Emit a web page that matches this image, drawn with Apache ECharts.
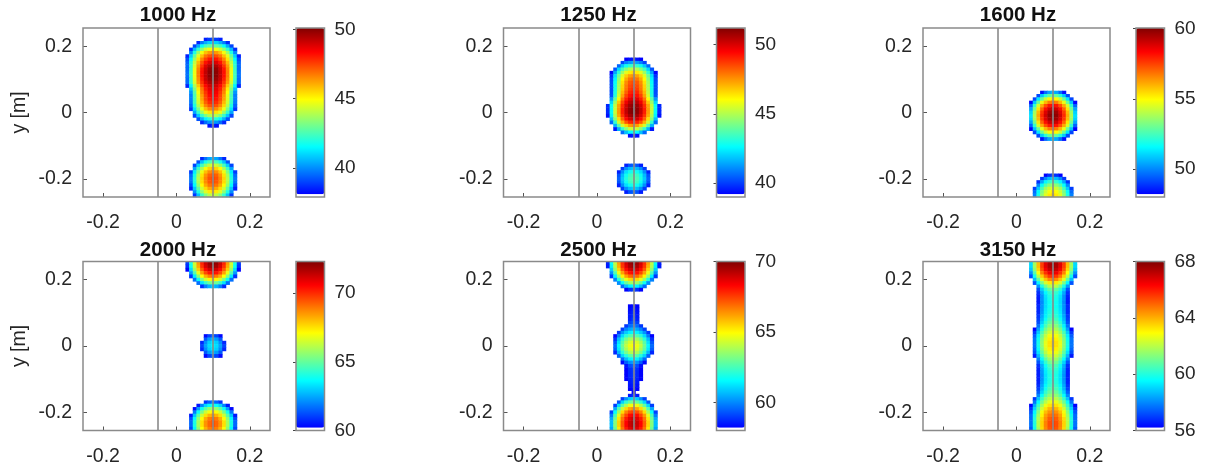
<!DOCTYPE html>
<html><head><meta charset="utf-8">
<script src="https://cdn.jsdelivr.net/npm/echarts@6/dist/echarts.min.js"></script>
<style>html,body{margin:0;padding:0;background:#fff}#c{width:1213px;height:469px}</style>
</head><body><div id="c"></div>
<script>
// ---------- data ----------
const gridPos = [-0.25,-0.24,-0.23,-0.22,-0.21,-0.2,-0.19,-0.18,-0.17,-0.16,-0.15,-0.14,-0.13,-0.12,-0.11,-0.1,-0.09,-0.08,-0.07,-0.06,-0.05,-0.04,-0.03,-0.02,-0.01,0,0.01,0.02,0.03,0.04,0.05,0.06,0.07,0.08,0.09,0.1,0.11,0.12,0.13,0.14,0.15,0.16,0.17,0.18,0.19,0.2,0.21,0.22,0.23,0.24,0.25];
const colX = [0.03,0.04,0.05,0.06,0.07,0.08,0.09,0.1,0.11,0.12,0.13,0.14,0.15,0.16,0.17];
const xTicks = [-0.2, 0, 0.2];
const yTicks = [-0.2, 0, 0.2];
const refLines = [-0.05, 0.1];
const titles = ['1000 Hz','1250 Hz','1600 Hz','2000 Hz','2500 Hz','3150 Hz'];
const cbLow  = [37.9, 39.0, 48.0, 60.0, 58.0, 56.0];
const cbHigh = [50.1, 51.2, 60.05, 72.3, 70.0, 68.0];
const cbTicks1000 = [40,45,50];
const cbTicks1250 = [40,45,50];
const cbTicks1600 = [50,55,60];
const cbTicks2000 = [60,65,70];
const cbTicks2500 = [60,65,70];
const cbTicks3150 = [56,60,64,68];
const yLabel = 'y [m]';

// level maps (dB), rows from y=0.25 (top) to y=-0.25 (bottom), columns x=0.03..0.17
const lvl1000 = [
[],[],[],
[,,,,,38.5,38.9,39,38.9,38.5],
[,,,38.6,39.7,40.4,40.9,41,40.9,40.4,39.7,38.6],
[,,39,40.4,41.6,42.4,42.8,43,42.8,42.4,41.6,40.4,39],
[,38.7,40.6,42.2,43.4,44.3,44.8,45,44.8,44.3,43.4,42.2,40.6,38.7],
[,39.9,41.9,43.6,44.8,45.8,46.3,46.5,46.3,45.8,44.8,43.6,41.9,39.9],
[38.5,40.9,42.9,44.6,45.8,46.8,47.3,47.5,47.3,46.8,45.8,44.6,42.9,40.9,38.5],
[39.1,41.5,43.6,45.3,46.6,47.5,48.1,48.3,48.1,47.5,46.6,45.3,43.6,41.5,39.1],
[39.4,42,44.1,45.9,47.2,48.2,48.8,49,48.8,48.2,47.2,45.9,44.1,42,39.4],
[39.5,42.2,44.4,46.3,47.7,48.8,49.4,49.6,49.4,48.8,47.7,46.3,44.4,42.2,39.5],
[39.5,42.3,44.7,46.6,48.1,49.1,49.8,50,49.8,49.1,48.1,46.6,44.7,42.3,39.5],
[39.6,42.4,44.7,46.7,48.2,49.2,49.9,50.1,49.9,49.2,48.2,46.7,44.7,42.4,39.6],
[39.6,42.4,44.7,46.7,48.2,49.2,49.9,50.1,49.9,49.2,48.2,46.7,44.7,42.4,39.6],
[39.5,42.3,44.6,46.5,48,49.1,49.7,49.9,49.7,49.1,48,46.5,44.6,42.3,39.5],
[39.5,42.2,44.4,46.3,47.7,48.8,49.4,49.6,49.4,48.8,47.7,46.3,44.4,42.2,39.5],
[38.6,41.4,43.8,45.7,47.3,48.3,49,49.2,49,48.3,47.3,45.7,43.8,41.4,38.6],
[,40.7,43.2,45.2,46.8,48,48.7,48.9,48.7,48,46.8,45.2,43.2,40.7],
[,40.1,42.7,44.9,46.6,47.7,48.5,48.7,48.5,47.7,46.6,44.9,42.7,40.1],
[,39.8,42.5,44.6,46.3,47.5,48.3,48.5,48.3,47.5,46.3,44.6,42.5,39.8],
[,39.8,42.4,44.5,46.2,47.4,48.1,48.3,48.1,47.4,46.2,44.5,42.4,39.8],
[,39.7,42.3,44.3,45.9,47.1,47.8,48,47.8,47.1,45.9,44.3,42.3,39.7],
[,39.4,41.9,43.9,45.5,46.6,47.3,47.5,47.3,46.6,45.5,43.9,41.9,39.4],
[,38.8,41.2,43.2,44.7,45.8,46.5,46.7,46.5,45.8,44.7,43.2,41.2,38.8],
[,,40.3,42.2,43.6,44.7,45.3,45.5,45.3,44.7,43.6,42.2,40.3],
[,,39,40.8,42.2,43.2,43.8,44,43.8,43.2,42.2,40.8,39],
[,,,39.2,40.5,41.4,42,42.2,42,41.4,40.5,39.2],
[,,,,38.6,39.5,40.1,40.3,40.1,39.5,38.6],
[,,,,,,38.3,38.6,38.3],
[],[],[],[],[],[],[],[],[],
[,,,,38.6,39.6,40.3,40.5,40.3,39.6,38.6],
[,,,39.2,40.7,41.8,42.5,42.7,42.5,41.8,40.7,39.2],
[,,39,40.9,42.4,43.5,44.2,44.4,44.2,43.5,42.4,40.9,39],
[,,40.3,42.3,43.8,44.9,45.5,45.8,45.5,44.9,43.8,42.3,40.3],
[,38.9,41.3,43.2,44.7,45.8,46.5,46.7,46.5,45.8,44.7,43.2,41.3,38.9],
[,39.5,41.8,43.8,45.3,46.4,47.1,47.3,47.1,46.4,45.3,43.8,41.8,39.5],
[,39.7,42,44,45.5,46.6,47.3,47.5,47.3,46.6,45.5,44,42,39.7],
[,39.6,41.9,43.9,45.4,46.5,47.2,47.4,47.2,46.5,45.4,43.9,41.9,39.6],
[,39.1,41.5,43.5,45,46.1,46.8,47,46.8,46.1,45,43.5,41.5,39.1],
[,38.5,40.8,42.8,44.3,45.4,46.1,46.3,46.1,45.4,44.3,42.8,40.8,38.5],
[,,40,41.9,43.4,44.5,45.2,45.4,45.2,44.5,43.4,41.9,40],
[,,38.8,40.7,42.2,43.3,44,44.2,44,43.3,42.2,40.7,38.8]
];
const lvl1250 = [
[],[],[],[],[],[],[],[],[],
[,,,,,39.1,39.4,39.5,39.4,39.1],
[,,,,40.1,40.9,41.3,41.5,41.3,40.9,40.1],
[,,,40.6,41.9,42.8,43.3,43.5,43.3,42.8,41.9,40.6],
[,,40.3,42.1,43.5,44.4,45,45.2,45,44.4,43.5,42.1,40.3],
[,39.2,41.4,43.2,44.7,45.7,46.3,46.5,46.3,45.7,44.7,43.2,41.4,39.2],
[,39.8,42.2,44.1,45.6,46.7,47.3,47.5,47.3,46.7,45.6,44.1,42.2,39.8],
[,40.1,42.5,44.5,46.1,47.2,47.9,48.1,47.9,47.2,46.1,44.5,42.5,40.1],
[,40.2,42.7,44.8,46.4,47.6,48.3,48.5,48.3,47.6,46.4,44.8,42.7,40.2],
[,40.2,42.8,44.9,46.6,47.8,48.5,48.7,48.5,47.8,46.6,44.9,42.8,40.2],
[,40.2,42.9,45,46.7,47.9,48.7,48.9,48.7,47.9,46.7,45,42.9,40.2],
[,40.2,43,45.2,47,48.2,49,49.2,49,48.2,47,45.2,43,40.2],
[,40.3,43.1,45.5,47.3,48.6,49.3,49.6,49.3,48.6,47.3,45.5,43.1,40.3],
[,41.2,43.9,46.1,47.9,49.1,49.9,50.1,49.9,49.1,47.9,46.1,43.9,41.2],
[,42.1,44.7,46.8,48.5,49.7,50.4,50.6,50.4,49.7,48.5,46.8,44.7,42.1],
[39.7,42.7,45.2,47.3,48.9,50.1,50.8,51,50.8,50.1,48.9,47.3,45.2,42.7,39.7],
[39.7,42.7,45.3,47.4,49.1,50.3,51,51.2,51,50.3,49.1,47.4,45.3,42.7,39.7],
[39.7,42.7,45.3,47.4,49.1,50.3,51,51.2,51,50.3,49.1,47.4,45.3,42.7,39.7],
[39.4,42.5,45,47.2,48.8,50,50.7,50.9,50.7,50,48.8,47.2,45,42.5,39.4],
[,41.8,44.4,46.5,48.2,49.4,50.1,50.3,50.1,49.4,48.2,46.5,44.4,41.8],
[,40.6,43.3,45.4,47.1,48.3,49,49.2,49,48.3,47.1,45.4,43.3,40.6],
[,,41.6,43.8,45.4,46.6,47.4,47.6,47.4,46.6,45.4,43.8,41.6],
[,,39.5,41.6,43.3,44.5,45.3,45.5,45.3,44.5,43.3,41.6,39.5],
[,,,,40.6,41.8,42.6,42.8,42.6,41.8,40.6],
[,,,,,,39.4,39.6,39.4],
[],[],[],[],[],[],[],[],
[,,,,,39.6,40.3,40.5,40.3,39.6],
[,,,,40,41.1,41.7,41.9,41.7,41.1,40],
[,,,39.6,41.1,42.2,42.8,43,42.8,42.2,41.1,39.6],
[,,,40.3,41.7,42.8,43.4,43.6,43.4,42.8,41.7,40.3],
[,,,40.5,41.9,43,43.6,43.8,43.6,43,41.9,40.5],
[,,,40.3,41.7,42.8,43.4,43.6,43.4,42.8,41.7,40.3],
[,,,39.6,41.1,42.2,42.8,43,42.8,42.2,41.1,39.6],
[,,,,40,41.1,41.7,41.9,41.7,41.1,40],
[,,,,,39.6,40.3,40.5,40.3,39.6],
[]
];
const lvl1600 = [
[],[],[],[],[],[],[],[],[],[],[],[],[],[],[],[],[],[],[],
[,,,,48.4,49.6,50.4,50.6,50.4,49.6,48.4],
[,,,49.2,50.9,52.1,52.9,53.1,52.9,52.1,50.9,49.2],
[,,49.1,51.3,53,54.2,55,55.2,55,54.2,53,51.3,49.1],
[,48.1,50.8,53,54.7,55.9,56.7,56.9,56.7,55.9,54.7,53,50.8,48.1],
[,49.5,52.2,54.4,56.1,57.3,58.1,58.3,58.1,57.3,56.1,54.4,52.2,49.5],
[,50.4,53.1,55.3,57,58.2,59,59.2,59,58.2,57,55.3,53.1,50.4],
[,51,53.7,55.9,57.6,58.8,59.6,59.8,59.6,58.8,57.6,55.9,53.7,51],
[,51.2,53.9,56.1,57.8,59,59.8,60,59.8,59,57.8,56.1,53.9,51.2],
[,51,53.7,55.9,57.6,58.8,59.6,59.8,59.6,58.8,57.6,55.9,53.7,51],
[,50.4,53.1,55.3,57,58.2,59,59.2,59,58.2,57,55.3,53.1,50.4],
[,49.5,52.2,54.4,56.1,57.3,58.1,58.3,58.1,57.3,56.1,54.4,52.2,49.5],
[,48.1,50.8,53,54.7,55.9,56.7,56.9,56.7,55.9,54.7,53,50.8,48.1],
[,,49.1,51.3,53,54.2,55,55.2,55,54.2,53,51.3,49.1],
[,,,49.2,50.9,52.1,52.9,53.1,52.9,52.1,50.9,49.2],
[,,,,48.4,49.6,50.4,50.6,50.4,49.6,48.4],
[],[],[],[],[],[],[],[],[],[],
[,,,,,48.1,48.8,49,48.8,48.1],
[,,,,48.9,50,50.7,50.9,50.7,50,48.9],
[,,,48.8,50.4,51.5,52.2,52.4,52.2,51.5,50.4,48.8],
[,,,50,51.6,52.7,53.4,53.6,53.4,52.7,51.6,50],
[,,49,50.9,52.5,53.7,54.3,54.5,54.3,53.7,52.5,50.9,49],
[,,49.6,51.6,53.2,54.3,54.9,55.2,54.9,54.3,53.2,51.6,49.6],
[,,49.9,51.9,53.5,54.6,55.2,55.5,55.2,54.6,53.5,51.9,49.9]
];
const lvl2000 = [
[61,64,66.5,68.5,70.1,71.3,72,72.2,72,71.3,70.1,68.5,66.5,64,61],
[60.8,63.8,66.3,68.3,69.9,71.1,71.8,72,71.8,71.1,69.9,68.3,66.3,63.8,60.8],
[60.2,63.2,65.7,67.8,69.3,70.5,71.2,71.4,71.2,70.5,69.3,67.8,65.7,63.2,60.2],
[,62.3,64.8,66.8,68.4,69.6,70.3,70.5,70.3,69.6,68.4,66.8,64.8,62.3],
[,60.9,63.4,65.5,67.1,68.2,68.9,69.2,68.9,68.2,67.1,65.5,63.4,60.9],
[,,61.7,63.8,65.4,66.5,67.2,67.4,67.2,66.5,65.4,63.8,61.7],
[,,,61.7,63.3,64.4,65.1,65.3,65.1,64.4,63.3,61.7],
[,,,,60.8,61.9,62.6,62.9,62.6,61.9,60.8],
[],[],[],[],[],[],[],[],[],[],[],[],[],[],
[,,,,,60.3,61.1,61.4,61.1,60.3],
[,,,,,61.4,62.3,62.6,62.3,61.4],
[,,,,60.7,62.1,63,63.3,63,62.1,60.7],
[,,,,61.1,62.4,63.2,63.5,63.2,62.4,61.1],
[,,,,60.7,62.1,63,63.3,63,62.1,60.7],
[,,,,,61.4,62.3,62.6,62.3,61.4],
[,,,,,60.3,61.1,61.4,61.1,60.3],
[],[],[],[],[],[],[],[],[],[],[],[],[],
[,,,,,60.9,61.5,61.8,61.5,60.9],
[,,,60.5,62,63.1,63.7,64,63.7,63.1,62,60.5],
[,,60.3,62.3,63.8,64.9,65.6,65.8,65.6,64.9,63.8,62.3,60.3],
[,,61.8,63.8,65.3,66.4,67,67.3,67,66.4,65.3,63.8,61.8],
[,60.5,62.9,64.9,66.4,67.5,68.1,68.4,68.1,67.5,66.4,64.9,62.9,60.5],
[,61.2,63.6,65.6,67.1,68.2,68.9,69.1,68.9,68.2,67.1,65.6,63.6,61.2],
[,61.6,64,65.9,67.5,68.6,69.2,69.5,69.2,68.6,67.5,65.9,64,61.6],
[,61.6,64,65.9,67.5,68.6,69.2,69.5,69.2,68.6,67.5,65.9,64,61.6],
[,61.2,63.6,65.6,67.1,68.2,68.9,69.1,68.9,68.2,67.1,65.6,63.6,61.2]
];
const lvl2500 = [
[58.6,61.6,64.1,66.2,67.7,68.9,69.6,69.8,69.6,68.9,67.7,66.2,64.1,61.6,58.6],
[58.5,61.4,63.9,66,67.6,68.7,69.4,69.6,69.4,68.7,67.6,66,63.9,61.4,58.5],
[,60.9,63.4,65.5,67.1,68.2,68.9,69.1,68.9,68.2,67.1,65.5,63.4,60.9],
[,60.1,62.6,64.7,66.2,67.4,68.1,68.3,68.1,67.4,66.2,64.7,62.6,60.1],
[,58.9,61.4,63.5,65.1,66.2,66.9,67.1,66.9,66.2,65.1,63.5,61.4,58.9],
[,,59.9,62,63.6,64.7,65.4,65.6,65.4,64.7,63.6,62,59.9],
[,,,60.1,61.7,62.9,63.6,63.8,63.6,62.9,61.7,60.1],
[,,,,59.6,60.7,61.4,61.6,61.4,60.7,59.6],
[,,,,,58.2,58.8,59,58.8,58.2],
[],[],[],[],
[,,,,,,58.1,58.4,58.1],
[,,,,,,58.3,58.6,58.3],
[,,,,,,58.4,58.7,58.4],
[,,,,,,58.5,58.8,58.5],
[,,,,,,58.6,59,58.6],
[,,,,,,59,59.3,59],
[,,,,,58.9,59.6,59.8,59.6,58.9],
[,,,,59,59.9,60.4,60.6,60.4,59.9,59],
[,,,58.9,60.1,60.9,61.4,61.6,61.4,60.9,60.1,58.9],
[,,58.2,59.8,61.1,62.1,62.6,62.8,62.6,62.1,61.1,59.8,58.2],
[,,58.8,60.7,62.1,63.1,63.7,63.9,63.7,63.1,62.1,60.7,58.8],
[,,59.3,61.2,62.7,63.8,64.4,64.6,64.4,63.8,62.7,61.2,59.3],
[,,59.6,61.5,63,64.1,64.7,64.9,64.7,64.1,63,61.5,59.6],
[,,59.4,61.3,62.8,63.8,64.5,64.7,64.5,63.8,62.8,61.3,59.4],
[,,58.7,60.6,62.1,63.1,63.8,64,63.8,63.1,62.1,60.6,58.7],
[,,,59.5,61,62,62.7,62.9,62.7,62,61,59.5],
[,,,,59.6,60.7,61.4,61.6,61.4,60.7,59.6],
[,,,,58.3,59.4,60.1,60.3,60.1,59.4,58.3],
[,,,,,58.4,59.2,59.4,59.2,58.4],
[,,,,,58.1,58.8,59,58.8,58.1],
[,,,,,58.1,58.7,58.9,58.7,58.1],
[,,,,,58.1,58.7,58.9,58.7,58.1],
[,,,,,58.1,58.6,58.8,58.6,58.1],
[,,,,,,58.5,58.7,58.5],
[,,,,,,58.4,58.6,58.4],
[,,,,,,58.2,58.4,58.2],
[,,,,,,,58.2],
[,,,,,,58.5,58.8,58.5],
[,,,,59,60.1,60.9,61.1,60.9,60.1,59],
[,,,59.3,61,62.2,62.9,63.1,62.9,62.2,61,59.3],
[,,59,61.1,62.8,63.9,64.7,64.9,64.7,63.9,62.8,61.1,59],
[,,60.4,62.6,64.2,65.4,66.1,66.4,66.1,65.4,64.2,62.6,60.4],
[,59,61.6,63.7,65.4,66.6,67.3,67.5,67.3,66.6,65.4,63.7,61.6,59],
[,59.8,62.5,64.6,66.3,67.4,68.2,68.4,68.2,67.4,66.3,64.6,62.5,59.8],
[,60.4,63,65.2,66.8,68,68.7,69,68.7,68,66.8,65.2,63,60.4],
[,60.7,63.3,65.5,67.1,68.3,69,69.3,69,68.3,67.1,65.5,63.3,60.7],
[,60.7,63.3,65.5,67.1,68.3,69,69.3,69,68.3,67.1,65.5,63.3,60.7],
[,60.4,63,65.2,66.8,68,68.7,69,68.7,68,66.8,65.2,63,60.4]
];
const lvl3150 = [
[,59.1,61.7,63.8,65.5,66.7,67.4,67.6,67.4,66.7,65.5,63.8,61.7,59.1],
[,59.1,61.7,63.8,65.5,66.7,67.4,67.6,67.4,66.7,65.5,63.8,61.7,59.1],
[,58.8,61.4,63.5,65.2,66.4,67.1,67.3,67.1,66.4,65.2,63.5,61.4,58.8],
[,58.1,60.7,62.9,64.6,65.7,66.5,66.7,66.5,65.7,64.6,62.9,60.7,58.1],
[,57.2,59.8,62,63.6,64.8,65.6,65.8,65.6,64.8,63.6,62,59.8,57.2],
[,,58.7,60.8,62.5,63.7,64.5,64.7,64.5,63.7,62.5,60.8,58.7],
[,,57.3,59.5,61.2,62.4,63.2,63.4,63.2,62.4,61.2,59.5,57.3],
[,,,58.2,59.9,61.1,61.9,62.1,61.9,61.1,59.9,58.2],
[,,,57.2,58.9,60.1,60.8,61,60.8,60.1,58.9,57.2],
[,,,56.8,58.4,59.5,60.2,60.4,60.2,59.5,58.4,56.8],
[,,,56.6,58.1,59.2,59.9,60.1,59.9,59.2,58.1,56.6],
[,,,56.5,58.1,59.1,59.8,60,59.8,59.1,58.1,56.5],
[,,,56.5,58,59.1,59.7,59.9,59.7,59.1,58,56.5],
[,,,56.7,58.1,59.1,59.7,59.9,59.7,59.1,58.1,56.7],
[,,,56.7,58.1,59.2,59.8,60,59.8,59.2,58.1,56.7],
[,,,56.7,58.2,59.3,59.9,60.1,59.9,59.3,58.2,56.7],
[,,,56.9,58.4,59.4,60.1,60.3,60.1,59.4,58.4,56.9],
[,,,57,58.6,59.7,60.4,60.6,60.4,59.7,58.6,57],
[,,,57.2,58.9,60.1,60.8,61,60.8,60.1,58.9,57.2],
[,,,57.7,59.4,60.5,61.3,61.5,61.3,60.5,59.4,57.7],
[,,56.2,58.3,59.9,61.1,61.8,62,61.8,61.1,59.9,58.3,56.2],
[,,56.9,58.9,60.5,61.6,62.3,62.5,62.3,61.6,60.5,58.9,56.9],
[,,57.4,59.4,61,62.1,62.8,63,62.8,62.1,61,59.4,57.4],
[,,57.7,59.7,61.3,62.4,63.1,63.3,63.1,62.4,61.3,59.7,57.7],
[,,57.7,59.8,61.4,62.6,63.3,63.5,63.3,62.6,61.4,59.8,57.7],
[,,57.7,59.8,61.4,62.6,63.3,63.5,63.3,62.6,61.4,59.8,57.7],
[,,57.5,59.6,61.2,62.4,63.1,63.3,63.1,62.4,61.2,59.6,57.5],
[,,57.2,59.2,60.8,62,62.7,62.9,62.7,62,60.8,59.2,57.2],
[,,56.5,58.6,60.3,61.5,62.2,62.4,62.2,61.5,60.3,58.6,56.5],
[,,,57.9,59.6,60.8,61.6,61.8,61.6,60.8,59.6,57.9],
[,,,57.3,59,60.2,61,61.2,61,60.2,59,57.3],
[,,,56.8,58.5,59.7,60.5,60.7,60.5,59.7,58.5,56.8],
[,,,56.6,58.3,59.4,60.2,60.4,60.2,59.4,58.3,56.6],
[,,,56.6,58.2,59.3,60,60.2,60,59.3,58.2,56.6],
[,,,56.6,58.1,59.2,59.9,60.1,59.9,59.2,58.1,56.6],
[,,,56.6,58.1,59.2,59.9,60.1,59.9,59.2,58.1,56.6],
[,,,56.6,58.2,59.3,60,60.2,60,59.3,58.2,56.6],
[,,,56.8,58.4,59.5,60.2,60.4,60.2,59.5,58.4,56.8],
[,,,57,58.6,59.8,60.5,60.7,60.5,59.8,58.6,57],
[,,,57.4,59,60.2,60.9,61.1,60.9,60.2,59,57.4],
[,,,58,59.6,60.7,61.4,61.6,61.4,60.7,59.6,58],
[,,56.9,58.8,60.3,61.4,62,62.2,62,61.4,60.3,58.8,56.9],
[,,57.7,59.6,61,62,62.6,62.8,62.6,62,61,59.6,57.7],
[,56.2,58.5,60.3,61.7,62.7,63.3,63.5,63.3,62.7,61.7,60.3,58.5,56.2],
[,56.8,59,60.8,62.3,63.3,63.9,64.1,63.9,63.3,62.3,60.8,59,56.8],
[,57.3,59.5,61.3,62.8,63.8,64.4,64.6,64.4,63.8,62.8,61.3,59.5,57.3],
[,57.6,59.8,61.7,63.1,64.2,64.8,65,64.8,64.2,63.1,61.7,59.8,57.6],
[,57.6,60,61.9,63.4,64.4,65.1,65.3,65.1,64.4,63.4,61.9,60,57.6],
[,57.7,60,62,63.5,64.6,65.3,65.5,65.3,64.6,63.5,62,60,57.7],
[,57.7,60,62,63.5,64.6,65.3,65.5,65.3,64.6,63.5,62,60,57.7],
[,57.4,59.8,61.8,63.4,64.5,65.2,65.4,65.2,64.5,63.4,61.8,59.8,57.4]
];

const levelMaps = [lvl1000, lvl1250, lvl1600, lvl2000, lvl2500, lvl3150];
const cbTickSets = [cbTicks1000, cbTicks1250, cbTicks1600, cbTicks2000, cbTicks2500, cbTicks3150];

// ---------- layout / style ----------
const boxLeft = [83, 503.5, 923];
const boxTop = [28, 261.5];
const boxW = 187, boxH = 169;
const cbOff = 213, cbW = 28.5;
const titleTop = [4.5, 239.5];
const jet = ['#0000ff','#0080ff','#00ffff','#80ff80','#ffff00','#ff8000','#ff0000','#800000'];
const FONT = '"Liberation Sans", Arial, Helvetica, sans-serif';
const TXT = '#262626';
const BOX = '#8a8a8a';

const cats = gridPos.map(String);
const rowY = gridPos.slice().reverse();
const xTickNames = xTicks.map(String);
const yTickNames = yTicks.map(String);

function cellsOf(rows) {
  const out = [];
  rows.forEach((row, r) => {
    const yi = gridPos.indexOf(rowY[r]);
    row.forEach((v, c) => {
      if (v != null) out.push([gridPos.indexOf(colX[c]), yi, v]);
    });
  });
  return out;
}

const grids = [], xAxes = [], yAxes = [], series = [], visualMaps = [], titleArr = [];
for (let i = 0; i < 6; i++) {
  const col = i % 3, row = Math.floor(i / 3);
  const gl = boxLeft[col], gt = boxTop[row];
  const gi = grids.length;
  grids.push({left: gl, top: gt, width: boxW, height: boxH, show: true, z: 10,
    borderColor: BOX, borderWidth: 1.5, backgroundColor: 'transparent'});
  xAxes.push({type: 'category', gridIndex: gi, data: cats, boundaryGap: true,
    axisLine: {show: false},
    axisTick: {show: true, inside: true, length: 4, alignWithLabel: true,
      interval: (idx, v) => xTickNames.includes(v), lineStyle: {color: '#555'}},
    axisLabel: {interval: (idx, v) => xTickNames.includes(v), fontSize: 19.5, color: TXT, margin: 16, fontFamily: FONT},
    splitLine: {show: false}});
  yAxes.push({type: 'category', gridIndex: gi, data: cats, boundaryGap: true,
    name: col === 0 ? yLabel : '', nameLocation: 'middle', nameRotate: 90, nameGap: 53,
    nameTextStyle: {fontSize: 19.5, color: TXT, fontFamily: FONT},
    axisLine: {show: false},
    axisTick: {show: true, inside: true, length: 4, alignWithLabel: true,
      interval: (idx, v) => yTickNames.includes(v), lineStyle: {color: '#555'}},
    axisLabel: {interval: (idx, v) => yTickNames.includes(v), fontSize: 19.5, color: TXT, margin: 11, fontFamily: FONT},
    splitLine: {show: false}});
  series.push({type: 'heatmap', xAxisIndex: gi, yAxisIndex: gi, data: cellsOf(levelMaps[i]),
    progressive: 0, emphasis: {disabled: true}, silent: true,
    markLine: {silent: true, symbol: ['none', 'none'], label: {show: false},
      lineStyle: {color: '#8a8a8a', width: 1.6, type: 'solid'},
      emphasis: {disabled: true},
      data: refLines.map(v => ({xAxis: String(v)}))}});
  // colorbar frame + tick axis
  const ci = grids.length;
  grids.push({left: gl + cbOff, top: gt, width: cbW, height: boxH, show: true, z: 10,
    borderColor: BOX, borderWidth: 1.5, backgroundColor: 'transparent'});
  xAxes.push({type: 'value', gridIndex: ci, show: false, min: 0, max: 1});
  yAxes.push({type: 'value', gridIndex: ci, position: 'right', min: cbLow[i], max: cbHigh[i],
    axisLine: {show: false},
    axisTick: {show: true, inside: true, length: 3, customValues: cbTickSets[i], lineStyle: {color: '#444'}},
    axisLabel: {customValues: cbTickSets[i], fontSize: 19, color: TXT, margin: 10, fontFamily: FONT},
    splitLine: {show: false}});
  const lowCut = cbLow[i] + (cbHigh[i] - cbLow[i]) / 64;
  visualMaps.push({type: 'continuous', seriesIndex: i, min: lowCut, max: cbHigh[i],
    calculable: false, hoverLink: false, orient: 'vertical', padding: 0,
    left: gl + cbOff, top: gt, itemWidth: cbW, itemHeight: boxH * 63 / 64,
    inRange: {color: jet}, outOfRange: {color: ['#ffffff']}, text: null, showLabel: false});
  titleArr.push({text: titles[i], left: gl + boxW / 2 + 1.5, top: titleTop[row], textAlign: 'center', padding: 0,
    textStyle: {fontSize: 20.5, fontWeight: 'bold', color: '#111', fontFamily: FONT}});
}

const chart = echarts.init(document.getElementById('c'), null, {renderer: 'canvas'});
chart.setOption({
  animation: false,
  backgroundColor: '#ffffff',
  textStyle: {fontFamily: FONT},
  title: titleArr,
  grid: grids, xAxis: xAxes, yAxis: yAxes,
  visualMap: visualMaps,
  series: series
});
</script></body></html>
